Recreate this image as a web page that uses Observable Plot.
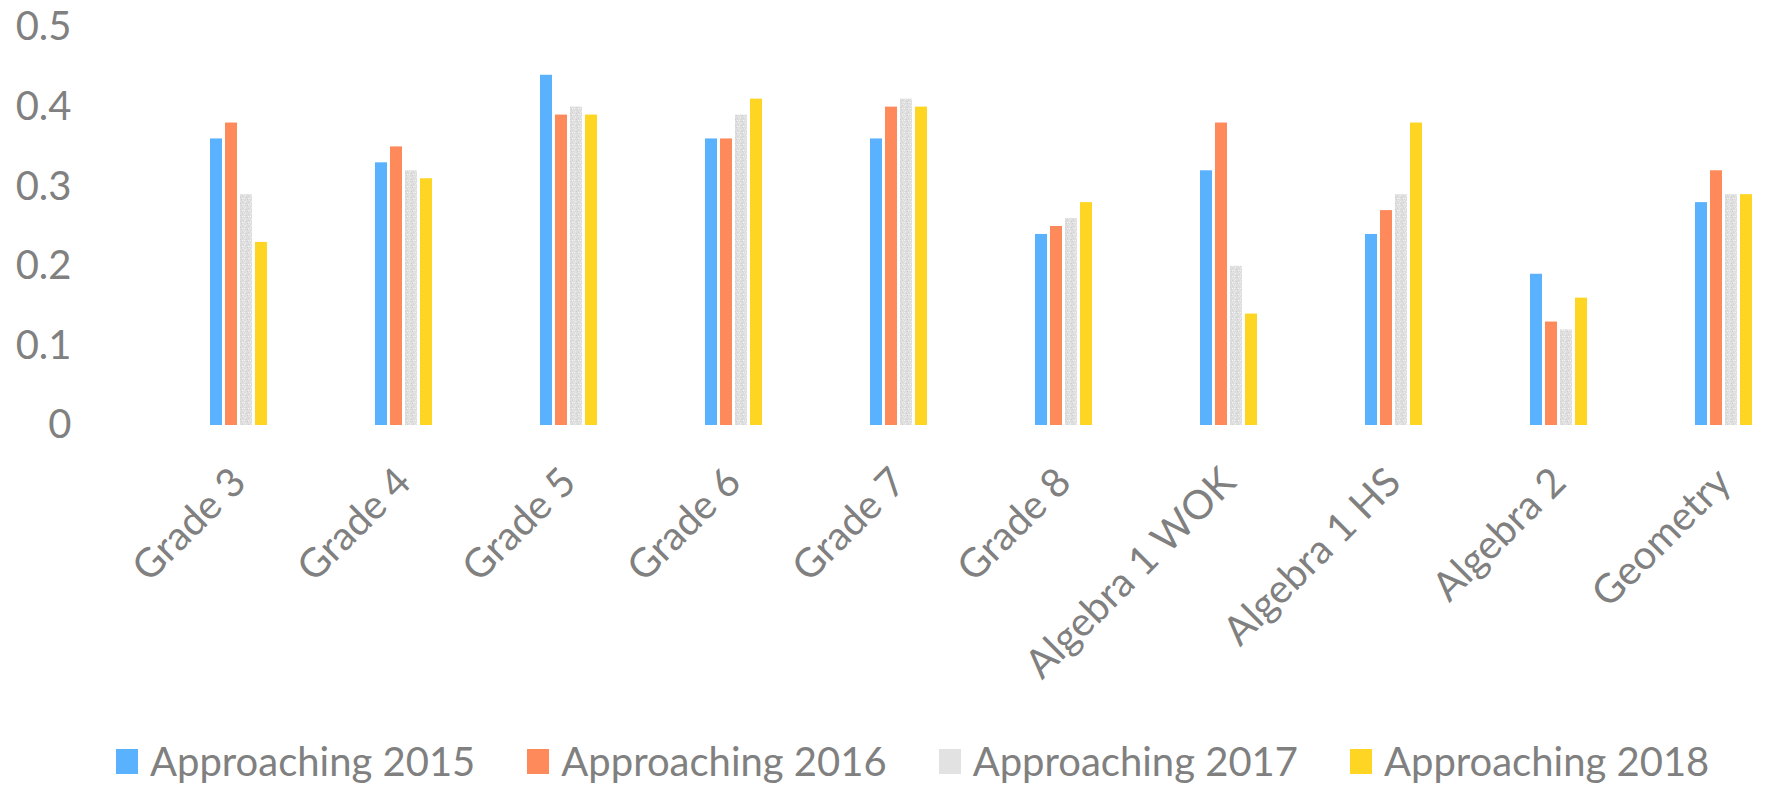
<!DOCTYPE html>
<html>
<head>
<meta charset="utf-8">
<script src="https://cdn.jsdelivr.net/npm/d3@7"></script>
<script src="https://cdn.jsdelivr.net/npm/@observablehq/plot@0.6"></script>
<style>
  html, body { margin: 0; padding: 0; background: #ffffff; }
  body { width: 1765px; height: 790px; overflow: hidden; font-family: Lato, "Open Sans", sans-serif; }
  #legend { display: flex; align-items: center; height: 50px; margin-top: 46px; padding-left: 116px; color: #808080; font-size: 40px; }
  .item { display: flex; align-items: center; margin-right: 52px; }
  .sw { width: 22px; height: 25px; margin-right: 12px; }
</style>
</head>
<body>
<div id="chart"></div>
<div id="legend"></div>
<script>
const categories = ["Grade 3", "Grade 4", "Grade 5", "Grade 6", "Grade 7", "Grade 8", "Algebra 1 WOK", "Algebra 1 HS", "Algebra 2", "Geometry"];
const seriesNames = ["Approaching 2015", "Approaching 2016", "Approaching 2017", "Approaching 2018"];
const approaching2015 = [0.36, 0.33, 0.44, 0.36, 0.36, 0.24, 0.32, 0.24, 0.19, 0.28];
const approaching2016 = [0.38, 0.35, 0.39, 0.36, 0.40, 0.25, 0.38, 0.27, 0.13, 0.32];
const approaching2017 = [0.29, 0.32, 0.40, 0.39, 0.41, 0.26, 0.20, 0.29, 0.12, 0.29];
const approaching2018 = [0.23, 0.31, 0.39, 0.41, 0.40, 0.28, 0.14, 0.38, 0.16, 0.29];
const seriesColors = ["#5ab1fe", "#fe8a5c", "url(#speckle)", "#fed523"];
const legendColors = ["#5ab1fe", "#fe8a5c", "#e2e2e2", "#fed523"];
const yTicks = [0, 0.1, 0.2, 0.3, 0.4, 0.5];

const seriesValues = [approaching2015, approaching2016, approaching2017, approaching2018];
const data = [];
categories.forEach((c, i) => {
  seriesNames.forEach((s, j) => data.push({category: c, series: s, value: seriesValues[j][i]}));
});

const chart = Plot.plot({
  width: 1765,
  height: 690,
  marginLeft: 197,
  marginRight: 0,
  marginTop: 27,
  marginBottom: 265,
  style: {fontFamily: "Lato, 'Open Sans', sans-serif", fontSize: "40px", color: "#808080", background: "transparent", overflow: "visible"},
  fx: {domain: categories, paddingInner: 0.544, paddingOuter: 0, label: null, tickRotate: -45, tickSize: 0, tickPadding: 50},
  x: {domain: seriesNames, paddingInner: 0.18, paddingOuter: 0.55, axis: null},
  y: {domain: [0, 0.5], ticks: yTicks, label: null, tickSize: 0, tickPadding: 130, tickFormat: d => d === 0 ? "0" : d3.format(".1f")(d)},
  color: {domain: seriesNames, range: seriesColors},
  marks: [
    Plot.barY(data, {fx: "category", x: "series", y: "value", fill: "series"})
  ]
});

// speckled light-grey texture for the 2017 series
const defs = d3.select(chart).insert("defs", ":first-child");
const pat = defs.append("pattern").attr("id", "speckle").attr("patternUnits", "userSpaceOnUse").attr("width", 6).attr("height", 6);
pat.append("rect").attr("width", 6).attr("height", 6).attr("fill", "#dedede");
[[0,0,"#f4f4f4"],[3,1,"#cfcfcf"],[1,3,"#f0f0f0"],[4,4,"#d2d2d2"],[5,2,"#ebebeb"],[2,5,"#cdcdcd"],[0,4,"#e9e9e9"],[4,0,"#f6f6f6"]]
  .forEach(([px, py, c]) => pat.append("rect").attr("x", px).attr("y", py).attr("width", 1).attr("height", 1).attr("fill", c));

document.getElementById("chart").appendChild(chart);

const legend = document.getElementById("legend");
seriesNames.forEach((s, j) => {
  const item = document.createElement("div");
  item.className = "item";
  const sw = document.createElement("div");
  sw.className = "sw";
  sw.style.background = legendColors[j];
  const t = document.createElement("span");
  t.textContent = s;
  item.appendChild(sw);
  item.appendChild(t);
  legend.appendChild(item);
});
</script>
</body>
</html>
